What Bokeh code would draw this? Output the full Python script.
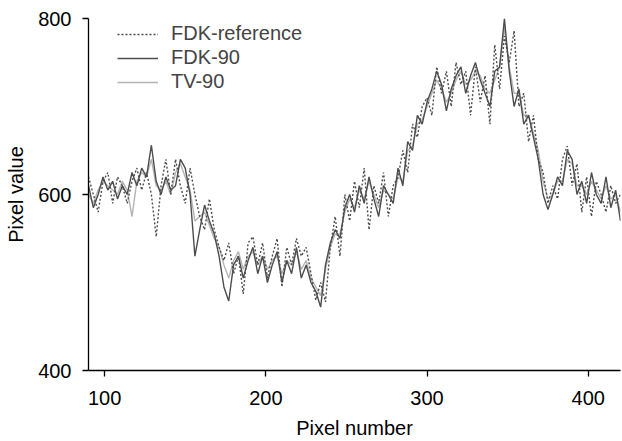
from bokeh.plotting import figure
from bokeh.models import Legend, LegendItem, FixedTicker, Range1d
from bokeh.embed import file_html
from bokeh.resources import INLINE

pixel = list(range(90, 421, 3))

fdk_reference = [620, 600, 580, 615, 625, 590, 620, 610, 590, 615, 630, 605, 625, 600, 552,
                 610, 640, 600, 640, 610, 590, 630, 600, 575, 560, 595, 560, 540, 525, 545,
                 510, 530, 487, 545, 552, 520, 545, 505, 530, 550, 495, 540, 520, 550, 530,
                 540, 510, 480, 500, 478, 540, 575, 530, 600, 570, 615, 585, 630, 560, 610,
                 590, 625, 575, 610, 620, 650, 625, 680, 665, 700, 710, 690, 745, 715, 740,
                 700, 750, 725, 740, 690, 745, 705, 735, 680, 770, 720, 780, 750, 786, 700,
                 715, 660, 690, 640, 625, 590, 610, 595, 640, 655, 610, 635, 580, 620, 575,
                 615, 600, 580, 610, 590, 600]

fdk_90 = [610, 585, 600, 620, 605, 615, 595, 610, 600, 625, 610, 630, 620, 656, 615,
          600, 620, 605, 610, 640, 630, 600, 530, 560, 588, 570, 555, 530, 495, 479,
          520, 530, 505, 525, 540, 510, 530, 500, 520, 535, 500, 525, 510, 540, 505,
          520, 500, 490, 472, 520, 545, 560, 550, 585, 600, 580, 610, 590, 620, 595,
          575, 610, 600, 590, 630, 610, 660, 650, 690, 680, 705, 720, 740, 725, 695,
          720, 735, 745, 715, 735, 750, 730, 715, 700, 740, 745, 800, 740, 700, 720,
          680, 690, 665, 640, 600, 583, 600, 620, 610, 650, 640, 600, 615, 590, 625,
          600, 590, 620, 585, 605, 570]

tv_90 = [600, 590, 605, 615, 610, 605, 600, 615, 605, 575, 615, 625, 620, 640, 610,
         605, 615, 600, 625, 635, 620, 605, 570, 575, 580, 565, 550, 540, 520, 505,
         525, 535, 515, 530, 535, 520, 530, 515, 525, 530, 510, 525, 520, 535, 515,
         525, 505, 495, 485, 515, 540, 555, 555, 580, 595, 585, 605, 595, 615, 600,
         585, 605, 600, 595, 620, 615, 650, 655, 680, 685, 700, 715, 730, 720, 705,
         715, 730, 740, 725, 730, 740, 735, 720, 715, 730, 745, 790, 745, 715, 715,
         690, 690, 670, 650, 615, 595, 600, 615, 615, 640, 635, 610, 610, 600, 615,
         605, 595, 610, 595, 600, 580]

series_names = ["FDK-reference", "FDK-90", "TV-90"]
x_ticks = [100, 200, 300, 400]
y_ticks = [400, 600, 800]

FONT = "Liberation Sans"

p = figure(width=622, height=441, output_backend="svg", toolbar_location=None,
           x_range=Range1d(90, 420), y_range=Range1d(400, 800),
           min_border_left=88, min_border_right=2, min_border_top=18, min_border_bottom=71)

p.background_fill_color = "white"
p.border_fill_color = "white"
p.outline_line_color = None
p.xgrid.visible = False
p.ygrid.visible = False

r_tv = p.line(pixel, tv_90, line_color="#b4b4b4", line_width=1.4)
r_fdk = p.line(pixel, fdk_90, line_color="#4d4d4d", line_width=1.4)
r_ref = p.line(pixel, fdk_reference, line_color="#4d4d4d", line_width=1.4, line_dash="2 2")

for ax, ticks in ((p.xaxis, x_ticks), (p.yaxis, y_ticks)):
    ax.ticker = FixedTicker(ticks=ticks)
    ax.minor_tick_line_color = None
    ax.major_tick_out = 6
    ax.major_tick_in = 0
    ax.axis_line_color = "black"
    ax.axis_line_width = 1.3
    ax.major_tick_line_color = "black"
    ax.major_tick_line_width = 1.3
    ax.major_label_text_font = FONT
    ax.major_label_text_font_size = "20px"
    ax.major_label_text_color = "black"
    ax.axis_label_text_font = FONT
    ax.axis_label_text_font_size = "20px"
    ax.axis_label_text_font_style = "normal"
    ax.axis_label_text_color = "black"

p.xaxis.axis_label = "Pixel number"
p.yaxis.axis_label = "Pixel value"
p.xaxis.major_label_standoff = 14
p.xaxis.axis_label_standoff = 9
p.yaxis.major_label_standoff = 11
p.yaxis.axis_label_standoff = 8

legend = Legend(items=[LegendItem(label=series_names[0], renderers=[r_ref]),
                       LegendItem(label=series_names[1], renderers=[r_fdk]),
                       LegendItem(label=series_names[2], renderers=[r_tv])],
                location=(29, 277))
legend.label_text_font = FONT
legend.label_text_font_size = "20px"
legend.glyph_width = 41
legend.glyph_height = 22
legend.label_height = 22
legend.spacing = 1
legend.padding = 0
legend.margin = 0
legend.label_standoff = 13
legend.border_line_alpha = 0
legend.background_fill_alpha = 0
p.add_layout(legend)

open("out.html", "w").write(file_html(p, INLINE))
